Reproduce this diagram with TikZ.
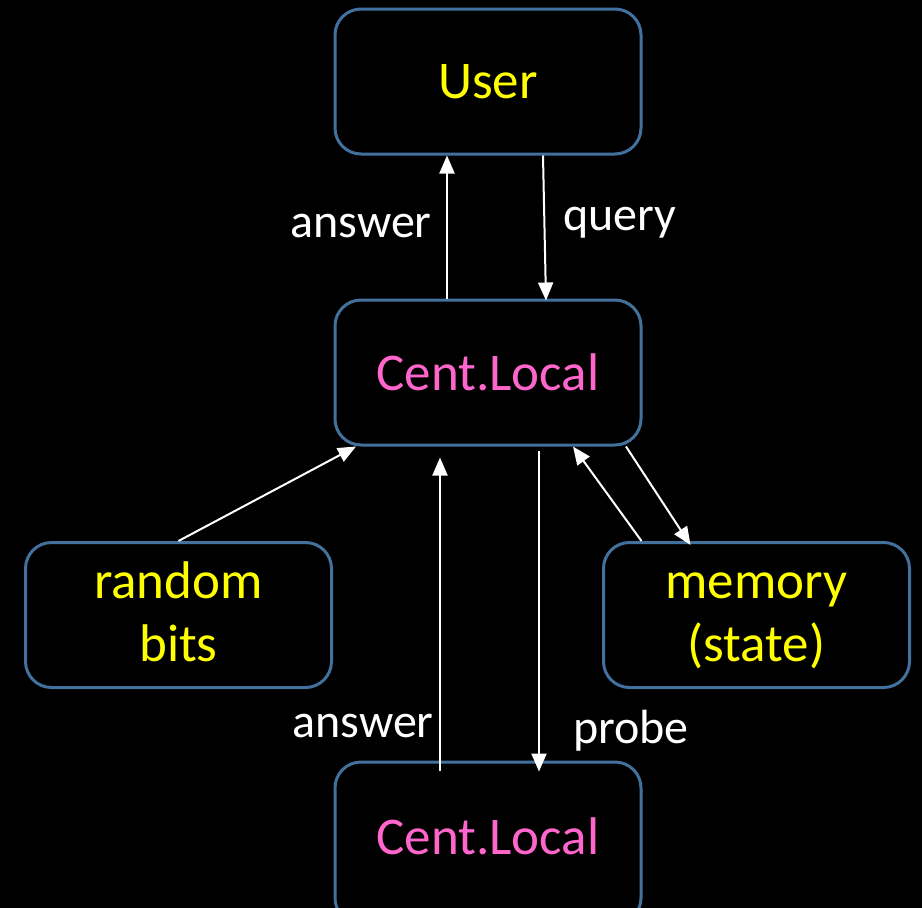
\documentclass[tikz,border=0pt]{standalone}
\usepackage{fontspec}
\setmainfont{Carlito}
\usetikzlibrary{arrows.meta}
\definecolor{boxblue}{HTML}{41719C}
\definecolor{ytext}{HTML}{FFFF00}
\definecolor{ptext}{HTML}{FF66CC}
\newcommand{\lnstrut}{\vphantom{(y}}
\begin{document}
\begin{tikzpicture}[x=1pt,y=-1pt,
  box/.style={draw=boxblue,line width=3pt,rounded corners=26pt,fill=black,
    minimum width=306pt,minimum height=145pt,inner sep=0pt,align=center,
    font=\fontsize{53}{63}\selectfont},
  lbl/.style={text=white,font=\fontsize{48}{54}\selectfont,inner sep=0pt},
  arr/.style={draw=white,line width=2pt,-{Triangle[length=18pt,width=15pt]}}]
\fill[black] (0,0) rectangle (922,908);
\clip (0,0) rectangle (922,908);
\useasboundingbox (0,0) rectangle (922,908);
\node[box,text=ytext] (user) at (488,81.5) {User};
\node[box,text=ptext] (cent) at (488,372.5) {Cent.Local};
\node[box,text=ytext] (rb) at (178.5,615) {random\lnstrut\\bits\lnstrut};
\node[box,text=ytext] (mem) at (756.5,615) {memory\lnstrut\\(state)\lnstrut};
\node[box,text=ptext,minimum height=162pt] (bot) at (488,843) {\raisebox{14pt}{Cent.Local}};
\draw[arr] ([xshift=-41pt]cent.north) -- ([xshift=-41pt]user.south);
\draw[arr] ([xshift=55pt]user.south) -- ([xshift=58pt,yshift=-2pt]cent.north);
\draw[arr] (rb.north) -- ([xshift=-132pt]cent.south);
\draw[arr] ([xshift=138pt]cent.south) -- ([xshift=-66pt,yshift=-4pt]mem.north);
\draw[arr] ([xshift=-115pt]mem.north) -- ([xshift=85pt]cent.south);
\draw[arr] ([xshift=-48pt,yshift=-10pt]bot.north) -- ([xshift=-48pt,yshift=-11pt]cent.south);
\draw[arr] ([xshift=51pt,yshift=-4pt]cent.south) -- ([xshift=51pt,yshift=-11pt]bot.north);
\node[lbl] (l1) at (361,226) {answer};
\node[lbl] (l2) at (620,223) {query};
\node[lbl] (l3) at (363,726) {answer};
\node[lbl] (l4) at (631,731) {probe};
\end{tikzpicture}
\end{document}
